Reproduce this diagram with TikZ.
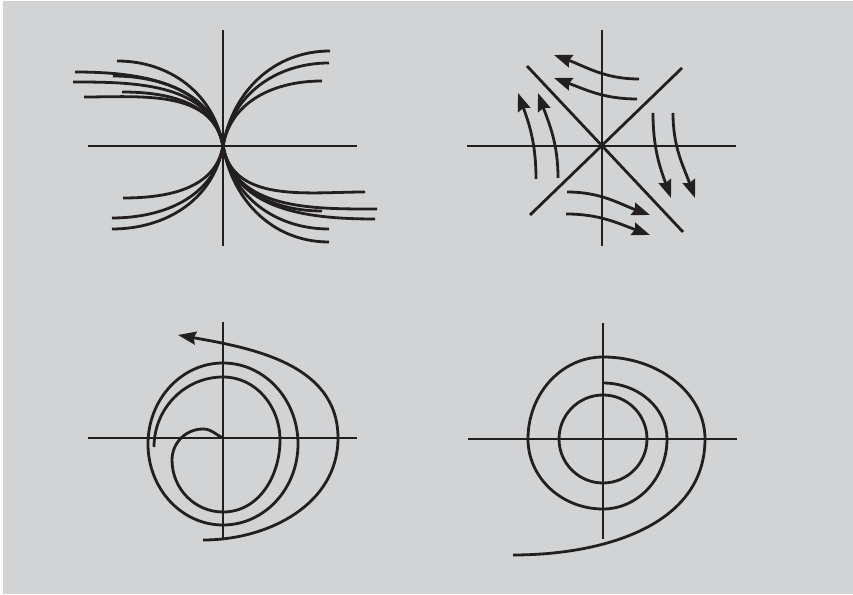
\documentclass[tikz,border=0pt]{standalone}
\usetikzlibrary{arrows.meta}

\definecolor{panelgray}{RGB}{209,211,212}
\definecolor{ink}{RGB}{35,31,32}

\tikzset{
    curve/.style={draw=ink, line width=2.8pt},
    flow/.style={curve, -{Stealth[length=18pt,width=13pt,inset=2pt]}},
}

\begin{document}
\begin{tikzpicture}[x=1pt, y=1pt]
    \useasboundingbox (0,0) rectangle (853,594);
    \fill[white] (0,0) rectangle (853,594);
    \fill[panelgray] (3,0) rectangle (853,593);

    % Origins of the four panels
    \coordinate (o1) at (223,448);
    \coordinate (o2) at (602,448);
    \coordinate (o3) at (223,156);
    \coordinate (o4) at (603,155);

    % Axes
    \foreach \o in {o1,o2,o3,o4} {
        \draw[curve] ([xshift=-135pt]\o) -- ([xshift=134pt]\o);
        \draw[curve] ([yshift=-100pt]\o) -- ([yshift=116pt]\o);
    }

    % Node: all curves through the origin
    \begin{scope}[shift={(o1)}]
        \foreach \ex/\ey in {-106/85,-148/74,-110/70,-150/64,-101/54,-139/49}
            \draw[curve] (0,0) to[out=100,in=0] (\ex,\ey);
        \foreach \ex/\ey in {107/95,106/83,99/65}
            \draw[curve] (0,0) to[out=80,in=180] (\ex,\ey);
        \foreach \ex/\ey in {-100/-52,-111/-72,-111/-83}
            \draw[curve] (0,0) to[out=260,in=0] (\ex,\ey);
        \foreach \ex/\ey in {142/-46,154/-63,99/-65,152/-73,106/-83,106/-96}
            \draw[curve] (0,0) to[out=280,in=180] (\ex,\ey);
    \end{scope}

    % Saddle
    \begin{scope}[shift={(o2)}]
        \draw[curve] (-75,80) -- (81,-86);
        \draw[curve] (80,78) -- (-72,-69);
        \draw[flow] (37,67) to[out=180,in=-20] (-48,91);
        \draw[flow] (35,47) to[out=180,in=-20] (-48,68);
        \draw[flow] (-66,-33) to[out=90,in=-70] (-84,53);
        \draw[flow] (-44,-32) to[out=90,in=-70] (-64,53);
        \draw[flow] (51,33) to[out=-90,in=110] (69,-52);
        \draw[flow] (71,33) to[out=-90,in=110] (93,-52);
        \draw[flow] (-35,-46) to[out=0,in=160] (48,-69);
        \draw[flow] (-36,-68) to[out=0,in=160] (48,-89);
    \end{scope}

    % Unstable spiral
    \begin{scope}[shift={(o3)}]
        \draw[curve] (0,-6) ellipse[x radius=75, y radius=81];
        \draw[curve] (0,0) to[out=155,in=0] (-20,9) to[out=180,in=90] (-51,-22)
            to[out=-90,in=180] (0,-74) to[out=0,in=-90] (57,-2)
            to[out=90,in=0] (0,61) to[out=180,in=90] (-69,-9);
        \draw[flow] (-20,-102) to[out=0,in=-90] (115,0) to[out=90,in=-10] (-45,103);
    \end{scope}

    % Stable spiral
    \begin{scope}[shift={(o4)}]
        \draw[curve] (0,0) circle[radius=44];
        \draw[curve] (0,56) arc[start angle=90, end angle=0, x radius=64, y radius=56]
            arc[start angle=0, end angle=-90, x radius=64, y radius=70]
            arc[start angle=-90, end angle=-180, x radius=75, y radius=70]
            arc[start angle=180, end angle=90, x radius=75, y radius=82]
            arc[start angle=90, end angle=0, x radius=102, y radius=82]
            to[out=-90,in=0] (-90,-116);
    \end{scope}
\end{tikzpicture}
\end{document}
